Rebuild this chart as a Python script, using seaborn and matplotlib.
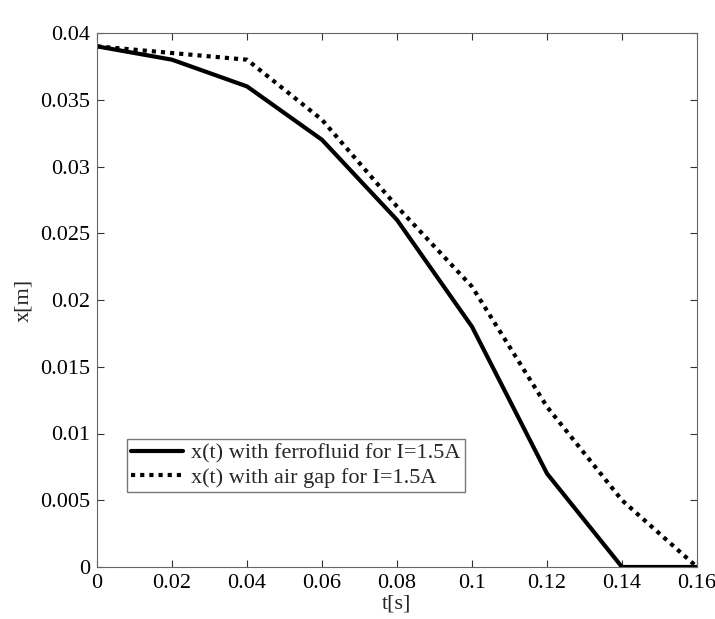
import numpy as np
import pandas as pd
import matplotlib
matplotlib.use("Agg")
import matplotlib.pyplot as plt
import seaborn as sns

# values
t = [0.0, 0.02, 0.04, 0.06, 0.08, 0.10, 0.12, 0.14, 0.16]
x_ferro = [0.039, 0.038, 0.036, 0.032, 0.026, 0.018, 0.007, 0.0, 0.0]
x_air = [0.039, 0.0385, 0.038, 0.0335, 0.027, 0.021, 0.012, 0.005, 0.0]

label_ferro = "x(t) with ferrofluid for I=1.5A"
label_air = "x(t) with air gap for I=1.5A"

df = pd.DataFrame({
    "t": t * 2,
    "x": x_ferro + x_air,
    "series": [label_ferro] * len(t) + [label_air] * len(t),
})

sns.set_style("ticks")
plt.rcParams["font.family"] = ["Liberation Serif", "DejaVu Serif"]

fig = plt.figure(figsize=(7.15, 6.19), dpi=100)
ax = fig.add_axes([97 / 715, 1 - 567 / 619, 600 / 715, 534 / 619])

sns.lineplot(data=df, x="t", y="x", hue="series", style="series",
             palette=["black", "black"],
             dashes={label_ferro: "", label_air: (1, 1.2)},
             linewidth=3, ax=ax, legend=True)

ax.set_xlim(0, 0.16)
ax.set_ylim(0, 0.04)
ax.set_xticks(np.arange(0, 0.161, 0.02))
ax.set_yticks(np.arange(0, 0.0401, 0.005))
ax.set_xticklabels(["0", "0.02", "0.04", "0.06", "0.08", "0.1", "0.12", "0.14", "0.16"])
ax.set_yticklabels(["0", "0.005", "0.01", "0.015", "0.02", "0.025", "0.03", "0.035", "0.04"])
ax.tick_params(direction="in", top=True, right=True, length=5, width=0.8,
               labelsize=16, colors="#333333", labelcolor="black", pad=5)
for s in ax.spines.values():
    s.set_color("#666666")
    s.set_linewidth(0.8)

ax.set_xlabel("t[s]", fontsize=16, labelpad=1)
ax.set_ylabel("x[m]", fontsize=16, labelpad=5)

leg = ax.legend(loc="lower left", bbox_to_anchor=(0.05, 0.14), fontsize=16,
                frameon=True, fancybox=False, edgecolor="#555555",
                borderpad=0.2, handlelength=2.3, labelspacing=0.15, handletextpad=0.4,
                borderaxespad=0)
leg.get_frame().set_linewidth(1.0)

fig.savefig("out.png", dpi=100)
